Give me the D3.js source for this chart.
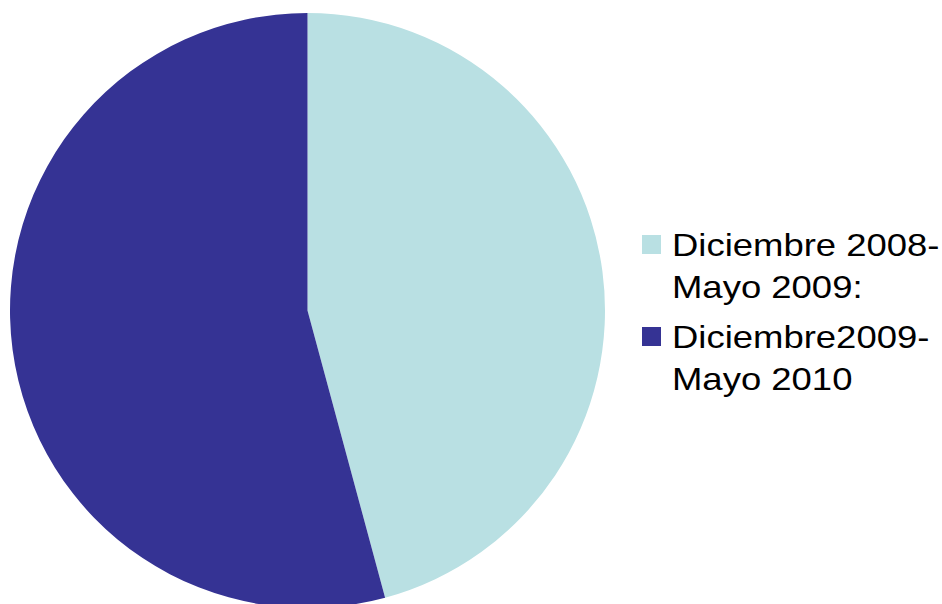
<!DOCTYPE html>
<html>
<head>
<meta charset="utf-8">
<script src="https://cdn.jsdelivr.net/npm/d3@7"></script>
<style>
  body { margin: 0; background: #fff; }
  text { font-family: "Liberation Sans", Arial, sans-serif; }
</style>
</head>
<body>
<svg id="chart"></svg>
<script>
const periods = ["Diciembre 2008-Mayo 2009:", "Diciembre2009-Mayo 2010"];
const legendLines = [["Diciembre 2008-", "Mayo 2009:"], ["Diciembre2009-", "Mayo 2010"]];
const shares = [45.8, 54.2];
const colors = ["#b9e0e3", "#353394"];

const width = 942;
const height = 604;
const cx = 307.5;
const cy = 310.5;
const radius = 297.5;

const svg = d3.select("#chart")
    .attr("width", width)
    .attr("height", height);

const pie = d3.pie()
    .sort(null)
    .value(d => d);

const arc = d3.arc()
    .innerRadius(0)
    .outerRadius(radius);

const color = d3.scaleOrdinal()
    .domain(periods)
    .range(colors);

// slices
svg.append("g")
    .attr("transform", `translate(${cx},${cy})`)
    .selectAll("path")
    .data(pie(shares))
    .join("path")
        .attr("d", arc)
        .attr("fill", (d, i) => color(periods[i]));

// legend
const legendX = 642;
const legendY = [235, 327];
const lineGap = 42;

const legend = svg.append("g")
    .selectAll("g")
    .data(periods)
    .join("g")
        .attr("transform", (d, i) => `translate(${legendX},${legendY[i]})`);

legend.append("rect")
    .attr("width", 19)
    .attr("height", 19)
    .attr("fill", d => color(d));

// the original text is a bit wider than Liberation Sans, stretch it sideways
legend.append("text")
    .attr("transform", "translate(30,21) scale(1.14,1)")
    .attr("font-size", 32)
    .attr("fill", "#000")
    .selectAll("tspan")
    .data((d, i) => legendLines[i])
    .join("tspan")
        .attr("x", 0)
        .attr("dy", (d, j) => j === 0 ? 0 : lineGap)
        .text(d => d);
</script>
</body>
</html>
